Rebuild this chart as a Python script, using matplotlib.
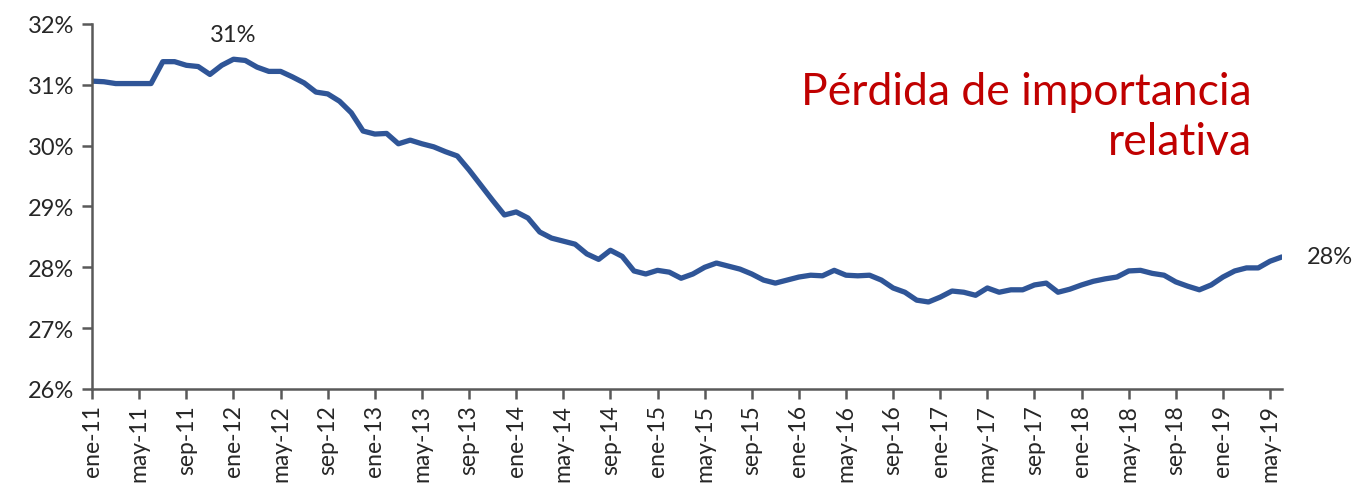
import matplotlib
matplotlib.use("Agg")
import matplotlib.pyplot as plt
import numpy as np

# participación mensual (%), ene-11 a jun-19
valores = [
    31.06, 31.05, 31.02, 31.02, 31.02, 31.02, 31.38, 31.38, 31.32, 31.30, 31.17, 31.32,
    31.42, 31.40, 31.29, 31.22, 31.22, 31.13, 31.03, 30.88, 30.85, 30.73, 30.54, 30.24,
    30.19, 30.20, 30.03, 30.09, 30.03, 29.98, 29.90, 29.83, 29.60, 29.35, 29.10, 28.86,
    28.91, 28.81, 28.58, 28.48, 28.43, 28.38, 28.22, 28.13, 28.28, 28.18, 27.94, 27.89,
    27.95, 27.92, 27.82, 27.89, 28.00, 28.07, 28.02, 27.97, 27.89, 27.79, 27.74, 27.79,
    27.84, 27.87, 27.86, 27.95, 27.87, 27.86, 27.87, 27.79, 27.66, 27.59, 27.46, 27.43,
    27.51, 27.61, 27.59, 27.54, 27.66, 27.59, 27.63, 27.63, 27.71, 27.74, 27.59, 27.64,
    27.71, 27.77, 27.81, 27.84, 27.94, 27.95, 27.90, 27.87, 27.76, 27.69, 27.63, 27.71,
    27.84, 27.94, 27.99, 27.99, 28.10, 28.17,
]
meses = ["ene", "feb", "mar", "abr", "may", "jun", "jul", "ago", "sep", "oct", "nov", "dic"]
etiquetas = [f"{meses[i % 12]}-{11 + i // 12}" for i in range(len(valores))]
yticks = [26, 27, 28, 29, 30, 31, 32]

plt.rcParams["font.family"] = ["Lato", "DejaVu Sans"]

x = np.arange(len(valores))

fig = plt.figure(figsize=(13.55, 4.89), dpi=100)
ax = fig.add_axes([0.068, 0.2025, 0.878, 0.7465])
ax.plot(x, valores, color="#2F5597", linewidth=3.8, solid_joinstyle="round",
        solid_capstyle="round")

ax.set_xlim(0, len(valores) - 1)
ax.set_ylim(26, 32)
ax.set_yticks(yticks)
ax.set_yticklabels([f"{v}%" for v in yticks], fontsize=17, color="#262626")
ax.set_xticks(x[::4])
ax.set_xticklabels(etiquetas[::4], rotation=90, fontsize=16.5, color="#262626")

for s in ["top", "right"]:
    ax.spines[s].set_visible(False)
for s in ["left", "bottom"]:
    ax.spines[s].set_color("#595959")
    ax.spines[s].set_linewidth(1.8)
ax.tick_params(axis="both", direction="out", length=7, width=1.8, color="#595959")
ax.tick_params(axis="y", pad=6)
ax.tick_params(axis="x", pad=4)

ax.annotate("31%", (12, valores[12]), xytext=(0, 10), textcoords="offset points",
            ha="center", va="bottom", fontsize=17, color="#262626")
ax.annotate("28%", (len(valores) - 1, valores[-1]), xytext=(18, 0),
            textcoords="offset points", ha="left", va="center", fontsize=17,
            color="#262626")

ax.text(0.975, 0.87, "Pérdida de importancia\nrelativa", transform=ax.transAxes,
        ha="right", va="top", fontsize=32, color="#C00000", linespacing=1.25)

fig.savefig("out.png", dpi=100)
